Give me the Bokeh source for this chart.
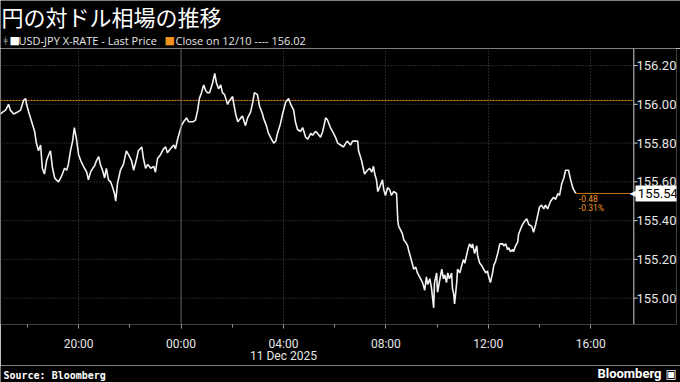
from datetime import datetime, timedelta
from bokeh.plotting import figure
from bokeh.layouts import column
from bokeh.models import (Range1d, FixedTicker, DatetimeTickFormatter, NumeralTickFormatter,
                          Span, Label, ColumnDataSource, DatetimeAxis)
from bokeh.embed import file_html
from bokeh.resources import INLINE

# ---------------- data ----------------
START = datetime(2025, 12, 10, 16, 57)      # left edge of the chart
END = datetime(2025, 12, 11, 17, 41)        # right edge of the plotting area (price axis line)
VIEW_END = datetime(2025, 12, 11, 19, 21)   # right edge of the canvas (room for the price labels)

# minutes after START
minutes = [0,5,12,19,23,31,40,47,54,59,
           61,66,73,80,84,89,94,98,103,108,
           113,117,122,127,131,136,141,145,150,155,
           159,164,169,173,178,183,188,192,197,202,
           206,211,216,220,225,230,234,239,244,248,
           253,258,263,267,270,274,281,288,295,300,
           307,312,319,323,331,335,340,345,352,359,
           363,368,375,382,387,391,398,406,410,415,
           420,424,429,436,441,445,452,457,462,466,
           471,476,481,485,490,497,502,506,511,516,
           520,525,532,537,544,546,551,556,563,567,
           574,579,586,591,595,602,607,614,616,623,
           628,635,640,645,649,656,661,668,675,680,
           687,691,696,703,708,715,720,727,731,738,
           743,750,755,762,766,773,778,785,790,797,
           804,809,813,820,825,830,837,839,846,851,
           853,860,865,870,874,877,881,884,888,895,
           898,902,907,912,916,921,928,931,933,938,
           942,945,949,954,956,961,966,968,973,977,
           982,989,994,998,1001,1006,1010,1015,1017,1022,
           1024,1029,1034,1038,1041,1045,1048,1052,1057,1059,
           1062,1064,1069,1071,1076,1081,1085,1088,1092,1095,
           1099,1104,1106,1111,1116,1118,1123,1127,1132,1137,
           1141,1144,1148,1153,1156,1160,1165,1170,1177,1179,
           1184,1188,1191,1195,1200,1202,1207,1212,1214,1221,
           1226,1233,1238,1245,1249,1254,1259,1263,1268,1273,
           1277,1282,1289,1296,1301,1306,1310,1315,1320,1324,
           1329,1331,1336,1341,1343,1348]

prices = [155.95,155.96,155.97,156.00,155.97,155.95,155.96,155.97,156.02,156.03,
          156.00,155.96,155.91,155.86,155.80,155.76,155.79,155.67,155.64,155.71,
          155.74,155.76,155.67,155.62,155.61,155.60,155.62,155.64,155.67,155.66,
          155.69,155.76,155.81,155.88,155.82,155.74,155.71,155.69,155.67,155.65,
          155.61,155.65,155.67,155.68,155.71,155.73,155.69,155.66,155.62,155.67,
          155.61,155.60,155.57,155.54,155.50,155.59,155.66,155.69,155.76,155.74,
          155.71,155.66,155.72,155.76,155.78,155.72,155.67,155.69,155.67,155.68,
          155.65,155.72,155.74,155.77,155.78,155.75,155.77,155.79,155.77,155.82,
          155.86,155.89,155.91,155.93,155.91,155.91,155.91,155.92,155.97,156.03,
          156.06,156.10,156.07,156.06,156.06,156.11,156.16,156.11,156.08,156.10,
          156.06,156.05,156.00,156.02,156.04,156.01,155.95,155.91,155.93,155.94,
          155.89,155.93,155.96,156.01,156.06,156.05,155.99,155.95,155.93,155.89,
          155.85,155.82,155.80,155.81,155.85,155.90,155.95,156.01,156.03,156.00,
          155.97,155.91,155.87,155.86,155.88,155.83,155.82,155.85,155.84,155.86,
          155.85,155.83,155.86,155.93,155.92,155.88,155.86,155.83,155.80,155.79,
          155.78,155.80,155.81,155.79,155.81,155.81,155.81,155.76,155.71,155.66,
          155.64,155.66,155.67,155.65,155.68,155.64,155.61,155.55,155.57,155.61,
          155.56,155.53,155.57,155.56,155.53,155.55,155.54,155.40,155.37,155.35,
          155.33,155.30,155.29,155.27,155.25,155.21,155.17,155.15,155.16,155.13,
          155.11,155.08,155.04,155.11,155.07,155.10,155.05,154.95,155.08,155.13,
          155.03,155.09,155.15,155.10,155.12,155.08,155.13,155.10,155.13,155.05,
          155.02,154.97,155.08,155.15,155.13,155.17,155.20,155.18,155.22,155.25,
          155.28,155.26,155.28,155.23,155.27,155.22,155.18,155.17,155.15,155.13,
          155.14,155.11,155.08,155.13,155.17,155.19,155.23,155.28,155.28,155.27,
          155.28,155.25,155.26,155.24,155.25,155.24,155.27,155.29,155.33,155.37,
          155.39,155.41,155.38,155.37,155.34,155.38,155.43,155.47,155.48,155.46,
          155.48,155.46,155.50,155.52,155.51,155.54,155.53,155.59,155.62,155.66,
          155.66,155.66,155.61,155.57,155.56,155.54]

prev_close = 156.02
last_price = 155.54
change_txt = "-0.48"
change_pct_txt = "-0.31%"

y_ticks = [155.0, 155.2, 155.4, 155.6, 155.8, 156.0, 156.2]
y_min, y_max = 154.864, 156.288
x_tick_times = [datetime(2025, 12, 10, 20), datetime(2025, 12, 11, 0), datetime(2025, 12, 11, 4),
                datetime(2025, 12, 11, 8), datetime(2025, 12, 11, 12), datetime(2025, 12, 11, 16)]
x_tick_labels = ["20:00", "00:00", "04:00", "08:00", "12:00", "16:00"]
x_minor_times = [datetime(2025, 12, 10, 18), datetime(2025, 12, 10, 22), datetime(2025, 12, 11, 2),
                 datetime(2025, 12, 11, 6), datetime(2025, 12, 11, 10), datetime(2025, 12, 11, 14)]
day_boundary = datetime(2025, 12, 11, 0)
date_label = "11 Dec 2025"
date_label_at = datetime(2025, 12, 11, 4)

title_txt = "円の対ドル相場の推移"
legend1_txt = "USD-JPY X-RATE - Last Price"
legend2_txt = "Close on 12/10 ---- 156.02"
source_txt = "Source: Bloomberg"
brand_txt = "Bloomberg"

# ---------------- helpers ----------------
EPOCH = datetime(1970, 1, 1)
def ms(d):
    return (d - EPOCH).total_seconds() * 1000.0

times = [START + timedelta(minutes=m) for m in minutes]
n = min(len(times), len(prices))
src = ColumnDataSource(dict(t=times[:n], p=prices[:n]))

ORANGE = "#f0941f"
ORANGE_DARK = "#c7741a"
GRID = "#4a4a4a"
AXIS = "#d0d0d0"
TXT = "#e6e6e6"
W = 680
TICK_LEN = timedelta(minutes=9)
BOX_GAP = timedelta(minutes=4)
BOX_LEN = timedelta(minutes=110)

def blank(height):
    f = figure(width=W, height=height, x_range=Range1d(0, W), y_range=Range1d(height, 0),
               x_axis_type=None, y_axis_type=None, output_backend="svg", toolbar_location=None,
               background_fill_color="black", border_fill_color="black", outline_line_color=None,
               min_border=0, min_border_left=0, min_border_right=0, min_border_top=0, min_border_bottom=0,
               frame_align=False)
    f.xgrid.visible = False
    f.ygrid.visible = False
    return f

def lab(f, x, y, text, **kw):
    f.add_layout(Label(x=x, y=y, text=text, text_baseline="middle", **kw))

# ---------------- header ----------------
head = blank(48)
lab(head, 1, 15, title_txt, text_color="white", text_font="Noto Sans CJK JP", text_font_size="22px")
lab(head, 3, 40, "╪", text_color="#bbbbbb", text_font="DejaVu Sans", text_font_size="7px")
lab(head, 9, 40, "■", text_color="white", text_font="DejaVu Sans", text_font_size="11px")
lab(head, 18, 40, legend1_txt, text_color=TXT, text_font="Open Sans", text_font_size="11px")
lab(head, 164, 40, "■", text_color=ORANGE, text_font="DejaVu Sans", text_font_size="11px")
lab(head, 175, 40, legend2_txt, text_color=TXT, text_font="Open Sans", text_font_size="11px")

# ---------------- main chart ----------------
p = figure(width=W, height=317, x_axis_type="datetime", y_axis_location="right",
           x_range=Range1d(ms(START), ms(VIEW_END)), y_range=Range1d(y_min, y_max),
           output_backend="svg", toolbar_location=None,
           background_fill_color="black", border_fill_color="black",
           outline_line_color=None, frame_align=False,
           min_border_left=0, min_border_right=4, min_border_top=0, min_border_bottom=35)

xa = p.xaxis[0]
xa.ticker = FixedTicker(ticks=[ms(d) for d in x_tick_times], minor_ticks=[ms(d) for d in x_minor_times])
xa.formatter = DatetimeTickFormatter(hours="%H:%M", days="%H:%M", context=None)
xa.major_label_overrides = {ms(d): lab_ for d, lab_ in zip(x_tick_times, x_tick_labels)}
xa.axis_line_color = None
xa.major_tick_line_color = "#9a9a9a"
xa.minor_tick_line_color = "#9a9a9a"
xa.major_tick_out = 4
xa.major_tick_in = 0
xa.minor_tick_out = 3
xa.minor_tick_in = 0
xa.major_label_standoff = 8
xa.major_label_text_color = TXT
xa.major_label_text_font = "Roboto"
xa.major_label_text_font_size = "12px"

# second row of the time axis: the date
xa2 = DatetimeAxis(ticker=FixedTicker(ticks=[ms(date_label_at)]),
                   formatter=DatetimeTickFormatter(hours="%d %b %Y", context=None),
                   major_label_overrides={ms(date_label_at): date_label},
                   axis_line_color=None, major_tick_line_color=None, minor_tick_line_color=None,
                   major_tick_out=0, major_tick_in=0, minor_tick_out=0, minor_tick_in=0,
                   major_label_standoff=-5, major_label_text_color=TXT,
                   major_label_text_font="Roboto", major_label_text_font_size="12px")
p.add_layout(xa2, "below")

# price axis: labels pulled back over the right edge of the canvas
ya = p.yaxis[0]
ya.ticker = FixedTicker(ticks=y_ticks)
ya.formatter = NumeralTickFormatter(format="0.00")
ya.axis_line_color = None
ya.major_tick_line_color = None
ya.minor_tick_line_color = None
ya.major_tick_out = 0
ya.major_tick_in = 0
ya.major_label_standoff = -40
ya.major_label_text_color = TXT
ya.major_label_text_font = "Roboto"
ya.major_label_text_font_size = "13px"

# grids (horizontal ones only across the plotting area)
p.xgrid.ticker = xa.ticker
p.xgrid.grid_line_color = GRID
p.xgrid.grid_line_dash = "1 2"
p.ygrid.visible = False
k = len(y_ticks)
p.segment(x0=[START] * k, x1=[END] * k, y0=y_ticks, y1=y_ticks,
          line_color=GRID, line_dash="1 2", line_width=1)

p.add_layout(Span(location=ms(day_boundary), dimension="height", line_color="#5c5c5c", line_width=1))
p.segment(x0=[START], x1=[END], y0=[prev_close], y1=[prev_close],
          line_color=ORANGE, line_dash="2 1", line_width=1)

# axis rule and its ticks
p.add_layout(Span(location=ms(END), dimension="height", line_color=AXIS, line_width=1))
p.segment(x0=[END] * k, x1=[END + TICK_LEN] * k, y0=y_ticks, y1=y_ticks, line_color=AXIS, line_width=1)

# price line
p.line("t", "p", source=src, line_color="#f2f2f2", line_width=1.6)

# last price connector, change labels and last-price box on the axis
last_t = times[n - 1]
p.segment(x0=[last_t], y0=[last_price], x1=[END], y1=[last_price], line_color=ORANGE_DARK, line_width=1)
p.add_layout(Label(x=ms(last_t), y=last_price, x_offset=3, y_offset=-5, text=change_txt,
                   text_color=ORANGE, text_font="Roboto", text_font_size="8.5px", text_baseline="middle"))
p.add_layout(Label(x=ms(last_t), y=last_price, x_offset=3, y_offset=-15, text=change_pct_txt,
                   text_color=ORANGE, text_font="Roboto", text_font_size="8.5px", text_baseline="middle"))
p.segment(x0=[END + BOX_GAP], x1=[END + BOX_GAP + BOX_LEN], y0=[last_price], y1=[last_price],
          line_color="white", line_width=16, line_cap="butt")
p.add_layout(Label(x=ms(END), y=last_price, x_offset=-4, y_offset=0, text="◀",
                   text_color="white", text_font="DejaVu Sans", text_font_size="8px",
                   text_baseline="middle", text_align="left"))
p.add_layout(Label(x=ms(END), y=last_price, x_offset=4, y_offset=0, text=f"{last_price:.2f}",
                   text_color="black", text_font="Roboto", text_font_size="13px",
                   text_baseline="middle", text_align="left"))

# ---------------- footer ----------------
foot = blank(17)
lab(foot, 3, 10, source_txt, text_color="white", text_font="DejaVu Sans Mono", text_font_style="bold",
    text_font_size="10px")
lab(foot, 661, 8, brand_txt, text_color="white", text_font="Roboto", text_font_style="bold",
    text_font_size="13px", text_align="right")
lab(foot, 665, 8, "▣", text_color="white", text_font="DejaVu Sans", text_font_size="12px")

layout = column(head, p, foot, spacing=0)
open("out.html", "w").write(file_html(layout, INLINE))
